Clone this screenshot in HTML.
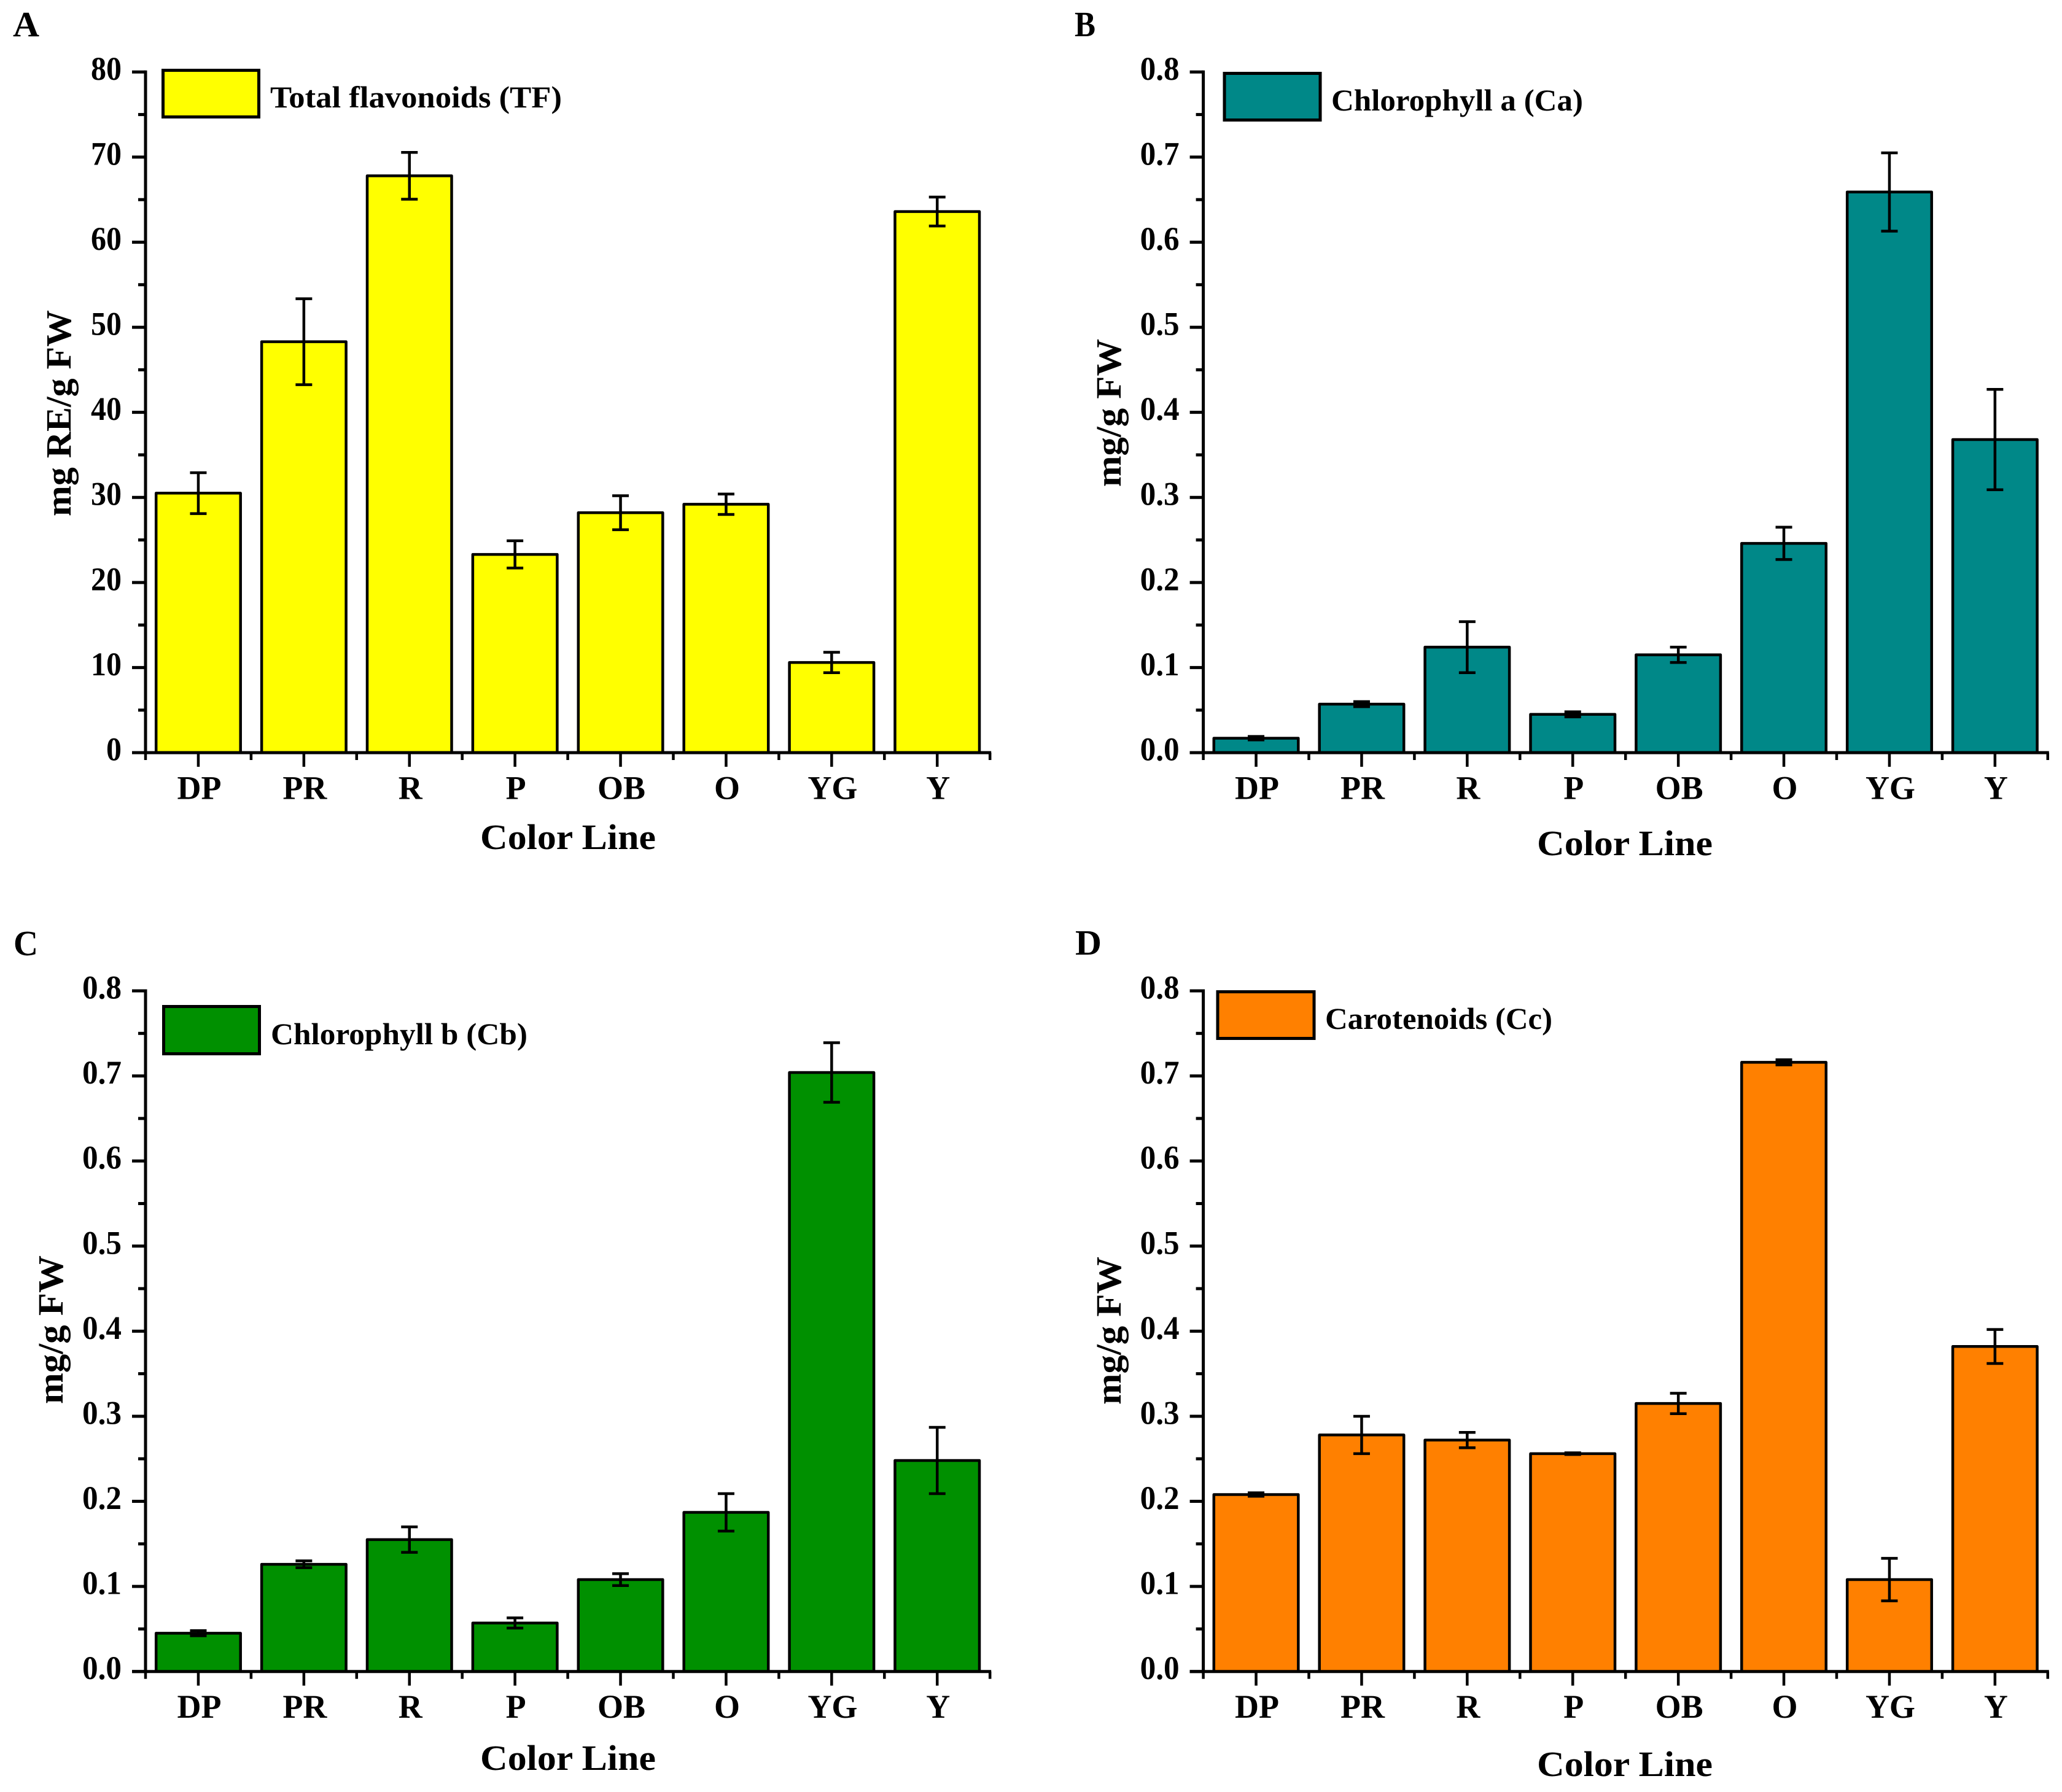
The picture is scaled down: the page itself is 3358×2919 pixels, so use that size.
<!DOCTYPE html>
<html lang="en">
<head>
<meta charset="utf-8">
<title>Pigment content by color line</title>
<style>
html,body{margin:0;padding:0;background:#fff;width:3358px;height:2919px;overflow:hidden}
svg{display:block}
text{font-family:"Liberation Serif",serif;font-weight:bold;fill:#000}
.legend{font-size:50px}
.title{font-size:58px}
.letter{font-size:58px}
</style>
</head>
<body>
<svg id="figure" xmlns="http://www.w3.org/2000/svg" width="3358" height="2919" viewBox="0 0 3358 2919">
<rect width="3358" height="2919" fill="#fff"/>

<g id="panel-a">
  <text class="letter" x="21" y="59" textLength="43" lengthAdjust="spacingAndGlyphs">A</text>
  <text class="title" transform="translate(115,841) rotate(-90)" textLength="336" lengthAdjust="spacingAndGlyphs">mg RE/g FW</text>
  <text class="title" x="782" y="1383" textLength="286" lengthAdjust="spacingAndGlyphs">Color Line</text>
  <rect x="265.5" y="114.5" width="156" height="76" fill="#FFFF00" stroke="#000" stroke-width="5"/>
  <text class="legend" x="440" y="175" textLength="475" lengthAdjust="spacingAndGlyphs">Total flavonoids (TF)</text>
</g>

<g id="panel-b">
  <text class="letter" x="1750" y="59" textLength="34" lengthAdjust="spacingAndGlyphs">B</text>
  <text class="title" transform="translate(1825,793) rotate(-90)" textLength="241" lengthAdjust="spacingAndGlyphs">mg/g FW</text>
  <text class="title" x="2503" y="1393" textLength="286" lengthAdjust="spacingAndGlyphs">Color Line</text>
  <rect x="1994" y="119.5" width="156" height="76" fill="#008888" stroke="#000" stroke-width="5"/>
  <text class="legend" x="2168" y="180" textLength="410" lengthAdjust="spacingAndGlyphs">Chlorophyll a (Ca)</text>
</g>

<g id="panel-c">
  <text class="letter" x="22" y="1556" textLength="40" lengthAdjust="spacingAndGlyphs">C</text>
  <text class="title" transform="translate(102,2287) rotate(-90)" textLength="242" lengthAdjust="spacingAndGlyphs">mg/g FW</text>
  <text class="title" x="782" y="2883" textLength="286" lengthAdjust="spacingAndGlyphs">Color Line</text>
  <rect x="266.5" y="1639.5" width="156" height="77" fill="#009000" stroke="#000" stroke-width="5"/>
  <text class="legend" x="441" y="1701" textLength="418" lengthAdjust="spacingAndGlyphs">Chlorophyll b (Cb)</text>
</g>

<g id="panel-d">
  <text class="letter" x="1751" y="1555" textLength="43" lengthAdjust="spacingAndGlyphs">D</text>
  <text class="title" transform="translate(1825,2288) rotate(-90)" textLength="241" lengthAdjust="spacingAndGlyphs">mg/g FW</text>
  <text class="title" x="2503" y="2893" textLength="286" lengthAdjust="spacingAndGlyphs">Color Line</text>
  <rect x="1983" y="1615.5" width="157" height="76" fill="#FF8000" stroke="#000" stroke-width="5"/>
  <text class="legend" x="2158" y="1676" textLength="370" lengthAdjust="spacingAndGlyphs">Carotenoids (Cc)</text>
</g>
</svg>

<script>
const categories = ["DP", "PR", "R", "P", "OB", "O", "YG", "Y"];

const ticksA = ["0", "10", "20", "30", "40", "50", "60", "70", "80"];
const ticksOther = ["0.0", "0.1", "0.2", "0.3", "0.4", "0.5", "0.6", "0.7", "0.8"];

const valuesA = [30.5, 48.3, 67.8, 23.3, 28.2, 29.2, 10.6, 63.6];
const errorsA = [2.4, 5.05, 2.75, 1.6, 2.0, 1.2, 1.2, 1.7];

const valuesB = [0.017, 0.057, 0.124, 0.045, 0.115, 0.246, 0.659, 0.368];
const errorsB = [0.002, 0.003, 0.03, 0.003, 0.009, 0.019, 0.046, 0.059];

const valuesC = [0.045, 0.126, 0.155, 0.057, 0.108, 0.187, 0.704, 0.248];
const errorsC = [0.003, 0.004, 0.015, 0.006, 0.007, 0.022, 0.035, 0.039];

const valuesD = [0.208, 0.278, 0.272, 0.256, 0.315, 0.716, 0.108, 0.382];
const errorsD = [0.002, 0.022, 0.009, 0.001, 0.012, 0.003, 0.025, 0.02];

const SVG_NS = "http://www.w3.org/2000/svg";
const STEP_X = 171.9;
const PLOT_H = 1108.7;

function shape(parent, tag, attrs) {
  const el = document.createElementNS(SVG_NS, tag);
  for (const k in attrs) el.setAttribute(k, attrs[k]);
  parent.appendChild(el);
  return el;
}

function drawPanel(panelId, key, axisX, zeroY, maxValue, tickLabels, values, errors, color) {
  const root = document.getElementById(panelId);
  const xPos = i => axisX + (i + 0.5) * STEP_X;
  const yPos = v => zeroY - (v / maxValue) * PLOT_H;
  const minorStep = maxValue / (tickLabels.length - 1) / 2;
  const barWidth = STEP_X * 0.8;

  values.forEach((v, i) => {
    const bar = shape(root, "rect", {
      x: xPos(i) - barWidth / 2,
      y: yPos(v),
      width: barWidth,
      height: zeroY - yPos(v),
      fill: color,
      stroke: "#000",
      "stroke-width": 4.5,
      "stroke-linejoin": "round"
    });
    
    

    const err = shape(root, "path", {
      d: "M" + xPos(i) + " " + yPos(v + errors[i]) + "V" + yPos(v - errors[i]) +
         "M" + (xPos(i) - 13.5) + " " + yPos(v + errors[i]) + "h27" +
         "M" + (xPos(i) - 13.5) + " " + yPos(v - errors[i]) + "h27",
      fill: "none",
      stroke: "#000",
      "stroke-width": 4.5
    });
    
    
  });

  // y axis line and ticks
  const yAxis = shape(root, "path", {
    d: "M" + axisX + " " + (yPos(maxValue) - 2.5) + "V" + (zeroY + 2.5),
    stroke: "#000",
    "stroke-width": 5,
    fill: "none"
  });
  
  

  tickLabels.forEach((label, i) => {
    const tickValue = i * minorStep * 2;
    const tick = shape(root, "path", {
      d: "M" + (axisX - 22) + " " + yPos(tickValue) + "H" + axisX,
      stroke: "#000",
      "stroke-width": 5
    });
    
    

    const glyphWidth = label.replace(".", "").length * 25 + (label.includes(".") ? 14 : 0);
    const text = shape(root, "text", {
      x: axisX - 39,
      y: yPos(tickValue) + 12.5,
      "text-anchor": "end",
      "font-size": 54,
      textLength: glyphWidth,
      lengthAdjust: "spacingAndGlyphs"
    });
    text.textContent = label;
    
    

    if (i < tickLabels.length - 1) {
      const minor = shape(root, "path", {
        d: "M" + (axisX - 12) + " " + yPos(tickValue + minorStep) + "H" + axisX,
        stroke: "#000",
        "stroke-width": 5
      });
      
      
    }
  });

  // x axis line and ticks
  const xAxis = shape(root, "path", {
    d: "M" + (axisX - 22) + " " + zeroY + "H" + (axisX + categories.length * STEP_X + 2),
    stroke: "#000",
    "stroke-width": 5,
    fill: "none"
  });
  
  

  categories.forEach((cat, i) => {
    const tick = shape(root, "path", {
      d: "M" + xPos(i) + " " + zeroY + "V" + (zeroY + 23),
      stroke: "#000",
      "stroke-width": 4.5
    });
    
    

    const text = shape(root, "text", {
      x: xPos(i) + 1.5,
      y: zeroY + 75.5,
      "text-anchor": "middle",
      "font-size": 54
    });
    text.textContent = cat;
    
    
  });

  for (let i = 0; i <= categories.length; i++) {
    const minor = shape(root, "path", {
      d: "M" + (axisX + i * STEP_X) + " " + zeroY + "V" + (zeroY + 12),
      stroke: "#000",
      "stroke-width": 4.5
    });
    
    
  }
}

drawPanel("panel-a", "a", 237, 1226, 80, ticksA, valuesA, errorsA, "#FFFF00");
drawPanel("panel-b", "b", 1959.6, 1226, 0.8, ticksOther, valuesB, errorsB, "#008888");
drawPanel("panel-c", "c", 237, 2722.7, 0.8, ticksOther, valuesC, errorsC, "#009000");
drawPanel("panel-d", "d", 1959.6, 2722.7, 0.8, ticksOther, valuesD, errorsD, "#FF8000");
</script>
</body>
</html>
